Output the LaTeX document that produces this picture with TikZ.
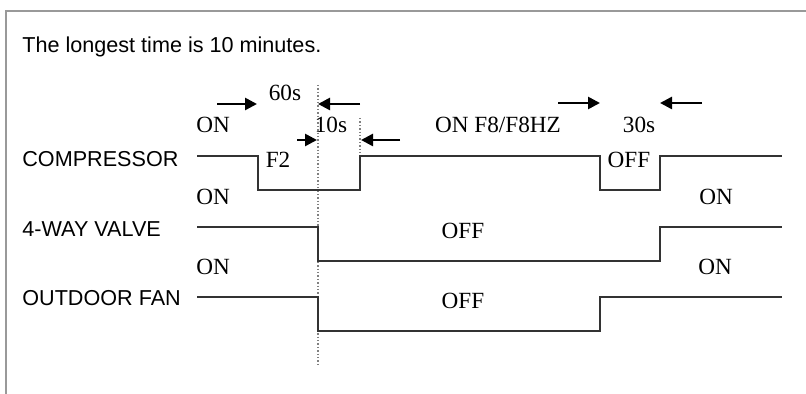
\documentclass[tikz,border=0pt]{standalone}
\usepackage{fontspec}
\setmainfont{Liberation Serif}
\setsansfont{Liberation Sans}
\usetikzlibrary{arrows.meta,positioning}

\tikzset{
  sig/.style={line width=1pt, draw=black!80, line join=miter},
  dim/.style={line width=1.3pt, -{Triangle[length=6pt,width=6pt]}},
  guide/.style={densely dotted, draw=gray, line width=0.7pt},
  lbl/.style={font=\sffamily\fontsize{10.8}{13}\selectfont, anchor=base west, inner sep=0pt},
  st/.style={font=\fontsize{11.6}{13}\selectfont, anchor=base, inner sep=0pt},
}

\begin{document}
\begin{tikzpicture}[x=0.5pt,y=-0.5pt]
\useasboundingbox (0,0) rectangle (806,394);
% Frame
\draw[gray!80, line width=1pt] (806,11) -- (6,11) -- (6,394);

% Title
\node[lbl] (title) at (22,53) {The longest time is 10 minutes.};

% Signal names
\node[lbl] (comp) at (22,167) {COMPRESSOR};
\node[lbl] (valve) at (22,237) {4-WAY VALVE};
\node[lbl] (fan) at (22,306) {OUTDOOR FAN};

% Guide lines
\coordinate (g1top) at (318,85); \coordinate (g1bot) at (318,365);
\coordinate (g2top) at (360,118); \coordinate (g2bot) at (360,156);
\draw[guide] (g1top) -- (g1bot);
\draw[guide] (g2top) -- (g2bot);

% Waveforms
\draw[sig] (197,156) -- (258,156) -- (258,190) -- (360,190) -- (360,156) -- (600,156)
  -- (600,190) -- (660,190) -- (660,156) -- (782,156);
\draw[sig] (197,227) -- (318,227) -- (318,261) -- (660,261) -- (660,227) -- (782,227);
\draw[sig] (197,297) -- (318,297) -- (318,331) -- (600,331) -- (600,297) -- (782,297);

% Time marks
\coordinate (t1a) at (217,104); \coordinate (t1b) at (257,104);
\coordinate (t2a) at (360,104); \coordinate (t2b) at (318,104);
\coordinate (t3a) at (297,140); \coordinate (t3b) at (317,140);
\coordinate (t4a) at (400,140); \coordinate (t4b) at (361,140);
\coordinate (t5a) at (558,103); \coordinate (t5b) at (600,103);
\coordinate (t6a) at (702,103); \coordinate (t6b) at (660,103);
\draw[dim] (t1a) -- (t1b);
\draw[dim] (t2a) -- (t2b);
\draw[dim] (t3a) -- (t3b);
\draw[dim] (t4a) -- (t4b);
\draw[dim] (t5a) -- (t5b);
\draw[dim] (t6a) -- (t6b);

% Times
\node[st] (s60) at (285,101) {60s};
\node[st] (s10) at (331,133) {10s};
\node[st] (s30) at (639,133) {30s};

% States
\node[st] (on1) at (213,133) {ON};
\node[st] (f2) at (278,168) {F2};
\node[st] (onf8) at (498,133) {ON F8/F8HZ};
\node[st] (off1) at (629,168) {OFF};
\node[st] (on2) at (213,205) {ON};
\node[st] (on3) at (716,205) {ON};
\node[st] (off2) at (463,239) {OFF};
\node[st] (on4) at (213,275) {ON};
\node[st] (on5) at (715,275) {ON};
\node[st] (off3) at (463,309) {OFF};
\end{tikzpicture}
\end{document}
